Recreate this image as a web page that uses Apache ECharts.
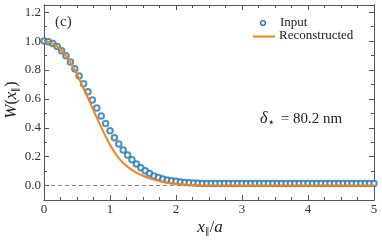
<!DOCTYPE html>
<html><head><meta charset="utf-8">
<script src="https://cdn.jsdelivr.net/npm/echarts@6/dist/echarts.min.js"></script>
<style>html,body{margin:0;padding:0;background:#fff}#c{width:382px;height:241px}</style>
</head><body><div id="c"></div>
<script>
const xInput = [0,0.067,0.133,0.2,0.267,0.333,0.4,0.467,0.533,0.6,0.667,0.733,0.8,0.867,0.933,1,1.067,1.133,1.2,1.267,1.333,1.4,1.467,1.533,1.6,1.667,1.733,1.8,1.867,1.933,2,2.067,2.133,2.2,2.267,2.333,2.4,2.467,2.533,2.6,2.667,2.733,2.8,2.867,2.933,3,3.067,3.133,3.2,3.267,3.333,3.4,3.467,3.533,3.6,3.667,3.733,3.8,3.867,3.933,4,4.067,4.133,4.2,4.267,4.333,4.4,4.467,4.533,4.6,4.667,4.733,4.8,4.867,4.933,5];
const yInput = [1.000,0.996,0.983,0.962,0.933,0.898,0.856,0.809,0.759,0.705,0.650,0.593,0.537,0.482,0.429,0.379,0.331,0.287,0.247,0.211,0.178,0.149,0.124,0.102,0.083,0.066,0.055,0.046,0.039,0.034,0.029,0.025,0.021,0.019,0.017,0.016,0.015,
0.014,0.014,0.014,0.014,0.014,0.014,0.014,0.014,0.014,0.014,0.014,0.014,0.014,0.014,0.014,0.014,0.014,0.014,0.014,0.014,0.014,0.014,0.014,0.014,0.014,0.014,0.014,0.014,0.014,0.014,0.014,0.014,0.014,0.014,0.014,0.014,0.014,0.014,0.014];
const xRecon = [0,0.1,0.2,0.3,0.4,0.5,0.6,0.7,0.8,0.9,1.0,1.1,1.2,1.3,1.4,1.5,1.6,1.7,1.8,1.9,2.0,2.1,2.2,2.3,2.4,2.5,3,3.5,4,4.5,5];
const yRecon = [1.0,0.99,0.962,0.917,0.855,0.77,0.672,0.572,0.47,0.372,0.282,0.21,0.156,0.118,0.09,0.068,0.05,0.036,0.025,0.017,0.011,0.007,0.004,0.002,0.001,0,0,0,0,0,0];
const yMajorTicks = [0,0.2,0.4,0.6,0.8,1.0,1.2];
const yMinorTicks = [-0.1,0.1,0.3,0.5,0.7,0.9,1.1];
const legendNames = ['Input','Reconstructed'];

const FONT = 'Liberation Serif';
const AX = '#555';
const BLUE = '#1f77b4', ORANGE = '#ff7f0e';
const chart = echarts.init(document.getElementById('c'), null, {renderer:'canvas'});
const yBase = {type:'value', min:-0.1, max:1.25, splitLine:{show:false}, axisLine:{show:true, lineStyle:{color:AX, width:1}}};
function yAx(pos, ticks, len, labels){
  return Object.assign({}, yBase, {
    position: pos,
    axisTick:{show:true, inside:true, length:len, customValues:ticks, lineStyle:{color:AX, width:1}},
    axisLabel: labels ? {show:true, customValues:yMajorTicks, formatter:v=>v.toFixed(1), fontFamily:FONT, fontSize:13, color:'#333', margin:3} : {show:false}
  });
}
const xBase = {type:'value', min:0, max:5, interval:1, splitLine:{show:false},
  axisLine:{show:true, onZero:false, lineStyle:{color:AX,width:1}},
  axisTick:{show:true, inside:true, length:5, lineStyle:{color:AX,width:1}},
  minorTick:{show:true, splitNumber:4, length:3, lineStyle:{color:AX,width:1}}};
chart.setOption({
  animation:false,
  grid:{left:44, right:8, top:5, bottom:41, containLabel:false},
  xAxis:[
    Object.assign({}, xBase, {position:'bottom', axisLabel:{show:true, fontFamily:FONT, fontSize:13, color:'#333', margin:3}}),
    Object.assign({}, xBase, {position:'top', axisLabel:{show:false}})
  ],
  yAxis:[
    yAx('left', yMajorTicks, 5, true),
    yAx('left', yMinorTicks, 3, false),
    yAx('right', yMajorTicks, 5, false),
    yAx('right', yMinorTicks, 3, false)
  ],
  series:[
    {name:legendNames[0], type:'scatter', xAxisIndex:0, yAxisIndex:0, symbol:'emptyCircle', symbolSize:5.5,
     itemStyle:{color:BLUE, borderColor:BLUE, borderWidth:1.3},
     data:xInput.map((x,i)=>[x,yInput[i]]), z:2,
     markLine:{silent:true, symbol:'none', label:{show:false}, lineStyle:{color:'#666', type:[4,3], width:0.8}, data:[{yAxis:0}], z:1}},
    {name:legendNames[1], type:'line', xAxisIndex:0, yAxisIndex:0, symbol:'none', smooth:0.3,
     lineStyle:{color:ORANGE, width:2}, itemStyle:{color:ORANGE},
     data:xRecon.map((x,i)=>[x,yRecon[i]]), z:3}
  ],
  graphic:[
    {type:'circle', shape:{cx:263, cy:23, r:2.4}, style:{fill:'#fff', stroke:BLUE, lineWidth:1.4}},
    {type:'text', x:280, y:23, style:{text:legendNames[0], font:'13px '+FONT, fill:'#222', verticalAlign:'middle'}},
    {type:'line', shape:{x1:253, y1:36.5, x2:275, y2:36.5}, style:{stroke:ORANGE, lineWidth:2}},
    {type:'text', x:279, y:36, style:{text:legendNames[1], font:'13px '+FONT, fill:'#222', verticalAlign:'middle'}},
    {type:'text', x:55, y:22, style:{text:'(c)', font:'15px '+FONT, fill:'#333', verticalAlign:'middle'}},
    {type:'text', x:260, y:119, style:{
      text:'{i|δ}{s|⋆} = 80.2 nm', font:'15px '+FONT, fill:'#222', verticalAlign:'middle',
      rich:{i:{fontStyle:'italic', fontFamily:FONT, fontSize:16, fill:'#222'}, s:{fontSize:12, fontFamily:'DejaVu Sans', padding:[7,2,0,0], fill:'#222'}}}},
    {type:'text', x:12, y:100, rotation:Math.PI/2, style:{
      text:'{i|W}({i|x}{s|∥})', font:'16px '+FONT, fill:'#222', align:'center', verticalAlign:'middle',
      rich:{i:{fontStyle:'italic', fontFamily:FONT, fontSize:17, fill:'#222'}, s:{fontSize:9, fontFamily:FONT, padding:[7,0,0,0], fill:'#222'}}}},
    {type:'text', x:210, y:228, style:{
      text:'{i|x}{s|∥}/{i|a}', font:'16px '+FONT, fill:'#222', align:'center', verticalAlign:'middle',
      rich:{i:{fontStyle:'italic', fontFamily:FONT, fontSize:17, fill:'#222'}, s:{fontSize:9, fontFamily:FONT, padding:[7,0,0,0], fill:'#222'}}}}
  ]
});
</script></body></html>
